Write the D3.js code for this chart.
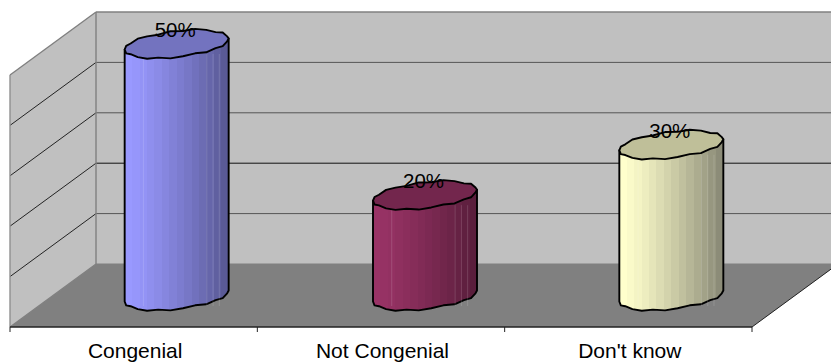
<!DOCTYPE html>
<html>
<head>
<meta charset="utf-8">
<script src="https://cdn.jsdelivr.net/npm/d3@7"></script>
<style>
html, body { margin: 0; padding: 0; background: #fff; }
svg { display: block; }
text { font-family: "Liberation Sans", Arial, sans-serif; fill: #000; }
</style>
</head>
<body>
<svg id="chart" width="831" height="363"></svg>
<script>
// Survey responses
const categories = ["Congenial", "Not Congenial", "Don't know"];
const percentages = [50, 20, 30];
const axisTicks = [0, 10, 20, 30, 40, 50];

// Side, cap and shade colours per cylinder
const sideLight = ["#9999ff", "#993366", "#ffffcc"];
const sideDark = ["#5a5a96", "#5a1e3c", "#8c8c78"];
const capFill = ["#7373bf", "#73264d", "#bfbf99"];

// Small vertical kinks along the faceted rim outline
const rimKinks = [0, 0.8, -0.6, 0.9, -0.3, -1, 0.6, -0.5, 0.9, 0, -0.8, 0.7, -0.4, 0, 0.9, -0.7, 0.4, 0.9, -0.5, 0.8, 0, -0.9, 0.7, -0.4, 0.9, -0.5];

const width = 831, height = 363;
const depthX = 86, depthY = -63;       // oblique offset of the back wall
const plotLeft = 10, floorY = 327;

const svg = d3.select("#chart");
const defs = svg.append("defs");

// Value scale measured on the back wall; the front scale is shifted along the depth.
const yBack = d3.scaleLinear().domain([0, 50]).range([floorY + depthY, floorY + depthY - 252]);
const yFront = v => yBack(v) - depthY;
const x = d3.scaleBand().domain(categories).range([plotLeft, plotLeft + 742]);

// Walls
const poly = (pts, fill) => svg.append("path").attr("d", d3.line()(pts) + "Z").attr("fill", fill);

const wallTop = yBack(50), wallBase = yBack(0);
poly([[plotLeft + depthX, wallTop], [width + 2, wallTop], [width + 2, wallBase], [plotLeft + depthX, wallBase]], "#c0c0c0");
poly([[plotLeft, wallTop - depthY], [plotLeft + depthX, wallTop], [plotLeft + depthX, wallBase], [plotLeft, floorY]], "#c0c0c0");
poly([[plotLeft, floorY], [plotLeft + depthX, wallBase], [width + 2, wallBase], [width + 2, floorY + (width + 2 - 752) * depthY / depthX], [752, floorY]], "#808080");

// Gridlines on both walls
axisTicks.forEach(t => {
  const edge = t === 0 || t === 50;
  svg.append("line")
    .attr("x1", plotLeft + depthX).attr("x2", width)
    .attr("y1", yBack(t)).attr("y2", yBack(t))
    .attr("stroke", edge ? "#808080" : (t === 20 ? "#111" : "#555"))
    .attr("stroke-width", t === 50 ? 1.4 : 1);
  svg.append("line")
    .attr("x1", plotLeft).attr("x2", plotLeft + depthX)
    .attr("y1", yFront(t)).attr("y2", yBack(t))
    .attr("stroke", edge ? "#808080" : "#111")
    .attr("stroke-width", edge ? 1.4 : 0.9);
});
svg.append("line").attr("x1", plotLeft + depthX).attr("x2", plotLeft + depthX)
  .attr("y1", wallTop).attr("y2", wallBase).attr("stroke", "#808080").attr("stroke-width", 1.4);
svg.append("line").attr("x1", plotLeft).attr("x2", plotLeft)
  .attr("y1", wallTop - depthY).attr("y2", floorY).attr("stroke", "#909090").attr("stroke-width", 1.4);

// Floor front and right edges, with category separators
svg.append("line").attr("x1", plotLeft).attr("x2", 752).attr("y1", floorY).attr("y2", floorY)
  .attr("stroke", "#222").attr("stroke-width", 1.6);
svg.append("line").attr("x1", 752).attr("x2", width).attr("y1", floorY)
  .attr("y2", floorY + (width - 752) * depthY / depthX).attr("stroke", "#222").attr("stroke-width", 1);
d3.range(4).forEach(i => {
  const tx = plotLeft + x.step() * i;
  svg.append("line").attr("x1", tx).attr("x2", tx).attr("y1", floorY).attr("y2", floorY + 5)
    .attr("stroke", "#222").attr("stroke-width", 1);
});

// Cylinders
const radiusX = 52, tiltY = 5.5, radiusY = 13;
const barCentre = i => x(categories[i]) + x.bandwidth() / 2 + [43, 44, 43][i];
const baseCentreY = 296;
const valueHeight = v => wallBase - yBack(v);
const shades = 14;

function rim(cx, cy) {
  // Coarse polygon, as 3D renderers facet a cylinder's outline
  return d3.range(0, 26).map(k => {
    const t = k / 26 * 2 * Math.PI;
    return [cx + radiusX * Math.cos(t), cy - tiltY * Math.cos(t) - radiusY * Math.sin(t) + rimKinks[k]];
  });
}

percentages.forEach((v, i) => {
  const cx = barCentre(i);
  const cyTop = baseCentreY - valueHeight(v);
  const cyBase = baseCentreY;
  const id = "side" + i;

  // Faceted shading across the barrel
  const shade = d3.interpolateRgb(sideLight[i], sideDark[i]);
  const grad = defs.append("linearGradient").attr("id", id)
    .attr("x1", 0).attr("x2", 1).attr("y1", 0).attr("y2", 0);
  d3.range(shades).forEach(s => {
    const c = shade(Math.pow(s / (shades - 1), 1.25));
    grad.append("stop").attr("offset", s / shades).attr("stop-color", c);
    grad.append("stop").attr("offset", (s + 1) / shades).attr("stop-color", c);
  });

  const lower = rim(cx, cyBase).filter((p, k) => k >= 13).concat([[cx + radiusX, cyBase - tiltY]]);
  const sidePts = [[cx - radiusX, cyTop + tiltY], ...lower, [cx + radiusX, cyTop - tiltY]];
  svg.append("path").attr("d", d3.line()(sidePts) + "Z")
    .attr("fill", `url(#${id})`).attr("stroke", "#000").attr("stroke-width", 1.9)
    .attr("stroke-linejoin", "round");

  // Pale seams between facets
  [0.18, 0.79, 0.85, 0.91].forEach(f => {
    const sx = cx - radiusX + f * 2 * radiusX;
    svg.append("line").attr("x1", sx).attr("x2", sx)
      .attr("y1", cyTop + 10).attr("y2", cyBase + 10)
      .attr("stroke", "#fff").attr("stroke-opacity", 0.14).attr("stroke-width", 1);
  });

  svg.append("path").attr("d", d3.line()(rim(cx, cyTop)) + "Z")
    .attr("fill", capFill[i]).attr("stroke", "#000").attr("stroke-width", 1.9)
    .attr("stroke-linejoin", "round");

  svg.append("text").attr("x", cx - 1.5).attr("y", cyTop - 7)
    .attr("text-anchor", "middle").attr("font-size", 20.5).text(v + "%");
});

// Category labels
svg.selectAll("text.cat").data(categories).join("text").attr("class", "cat")
  .attr("x", d => x(d) + x.bandwidth() / 2 + 1.5)
  .attr("y", 358).attr("text-anchor", "middle").attr("font-size", 21).text(d => d);
</script>
</body>
</html>
